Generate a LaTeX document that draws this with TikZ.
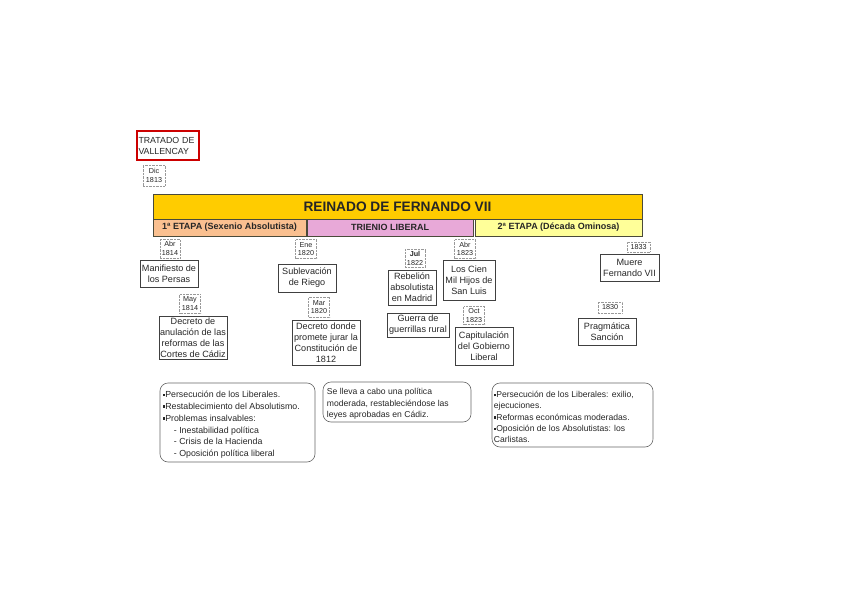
\documentclass[tikz,border=0pt]{standalone}
\usepackage{fontspec}
\setmainfont{Liberation Sans}
\definecolor{bannery}{HTML}{FFCC00}
\definecolor{peach}{HTML}{FAC090}
\definecolor{pinkst}{HTML}{E8A9D8}
\definecolor{lighty}{HTML}{FFFF99}
\definecolor{bord}{HTML}{4A4A3A}
\newcommand\mybul{\rule[0.3ex]{2.4pt}{2.4pt}}
\begin{document}
\begin{tikzpicture}[x=1pt,y=-1pt,
  evt/.style={draw=black!75, line width=0.6pt, inner sep=0.5pt, align=center, text=black!85,
    font=\fontsize{9.1}{11}\selectfont},
  datebox/.style={draw=black!40, densely dotted, inner sep=0.3pt, align=center, text=black!85,
    font=\fontsize{7.2}{8.6}\selectfont},
  stage/.style={draw=bord, line width=0.7pt, minimum height=17pt, inner sep=0pt,
    font=\bfseries\fontsize{9}{9}\selectfont, text=black!85},
  roundbox/.style={draw=black!60, line width=0.6pt, rounded corners=8pt, inner sep=0pt},
  bodytxt/.style={align=left, inner sep=0pt, text=black!85, anchor=north west}
]
\useasboundingbox (0,0) rectangle (848,599);

% treaty
\node[draw=red!80!black, line width=1.1pt, minimum width=62pt, minimum height=29pt,
  inner sep=1pt, align=left, text width=59pt, font=\fontsize{8.8}{11}\selectfont, text=black!85]
  (tratado) at (168,145.5) {TRATADO DE\\VALLENCAY};
\node[datebox, minimum width=22pt, minimum height=21pt] (d1813) at (154,175.5) {Dic\\1813};

% banner
\node[draw=bord, line width=0.7pt, fill=bannery, minimum width=489pt, minimum height=25pt,
  inner sep=0pt, font=\bfseries\fontsize{13.7}{13.7}\selectfont, text=black!85]
  (title) at (397.5,206.5) {REINADO DE FERNANDO VII};
\node[stage, fill=peach, minimum width=153pt] (s1) at (229.5,227.5) {1ª ETAPA (Sexenio Absolutista)};
\node[stage, fill=pinkst, minimum width=166pt] (s2) at (390,227.5) {TRIENIO LIBERAL};
\node[stage, fill=lighty, minimum width=167pt] (s3) at (558.5,227.5) {2ª ETAPA (Década Ominosa)};

% events
\node[datebox, minimum width=20pt, minimum height=19pt] (dabr14) at (170,248.5) {Abr\\1814};
\node[evt, minimum width=58pt, minimum height=27pt] (manif) at (169,273.5) {Manifiesto de\\los Persas};
\node[datebox, minimum width=21pt, minimum height=19pt] (dmay14) at (190,303.5) {May\\1814};
\node[evt, minimum width=68pt, minimum height=43pt] (anul) at (193,337.5) {Decreto de\\anulación de las\\reformas de las\\Cortes de Cádiz};

\node[datebox, minimum width=21pt, minimum height=19pt] (dene20) at (306,249) {Ene\\1820};
\node[evt, minimum width=58pt, minimum height=28pt] (riego) at (307,278) {Sublevación\\de Riego};
\node[datebox, minimum width=21pt, minimum height=20pt] (dmar20) at (319,307) {Mar\\1820};
\node[evt, minimum width=68pt, minimum height=45pt] (jurar) at (326,342.5) {Decreto donde\\promete jurar la\\Constitución de\\1812};

\node[datebox, minimum width=20pt, minimum height=18pt] (djul22) at (415,258.5) {\textbf{Jul}\\1822};
\node[evt, minimum width=48pt, minimum height=35pt] (rebel) at (412,287.5) {Rebelión\\absolutista\\en Madrid};
\node[datebox, minimum width=21pt, minimum height=19pt] (dabr23) at (465,249) {Abr\\1823};
\node[evt, minimum width=52pt, minimum height=40pt] (cien) at (469,280) {Los Cien\\Mil Hijos de\\San Luis};
\node[evt, minimum width=62pt, minimum height=24pt] (guerra) at (418,325) {Guerra de\\guerrillas rural};
\node[datebox, minimum width=21pt, minimum height=18pt] (doct23) at (474,315.5) {Oct\\1823};
\node[evt, minimum width=58pt, minimum height=38pt] (capit) at (484,346) {Capitulación\\del Gobierno\\Liberal};

\node[datebox, minimum width=23pt, minimum height=10pt] (d1833) at (638.5,247) {1833};
\node[evt, minimum width=59pt, minimum height=27pt] (muere) at (629.5,267.5) {Muere\\Fernando VII};
\node[datebox, minimum width=24pt, minimum height=11pt] (d1830) at (610,307.5) {1830};
\node[evt, minimum width=58pt, minimum height=27pt] (pragm) at (607,331.5) {Pragmática\\Sanción};

% bottom boxes
\node[roundbox, minimum width=155pt, minimum height=79pt] (ba) at (237.5,422.5) {};
\node[bodytxt, font=\fontsize{8.8}{11.9}\selectfont] (ta) at ([shift={(3,8)}]ba.north west)
 {\mybul Persecución de los Liberales.\\
  \mybul Restablecimiento del Absolutismo.\\
  \mybul Problemas insalvables:\\
  \hspace*{11pt}- Inestabilidad política\\
  \hspace*{11pt}- Crisis de la Hacienda\\
  \hspace*{11pt}- Oposición política liberal};

\node[roundbox, minimum width=148pt, minimum height=40pt] (bb) at (397,402) {};
\node[bodytxt, font=\fontsize{8.6}{11.4}\selectfont] (tb) at ([shift={(4,6.5)}]bb.north west)
 {Se lleva a cabo una política\\
  moderada, restableciéndose las\\
  leyes aprobadas en Cádiz.};

\node[roundbox, minimum width=161pt, minimum height=64pt] (bc) at (572.5,415) {};
\node[bodytxt, font=\fontsize{8.6}{11.2}\selectfont] (tc) at ([shift={(2,8.5)}]bc.north west)
 {\mybul Persecución de los Liberales: exilio,\\
  ejecuciones.\\
  \mybul Reformas económicas moderadas.\\
  \mybul Oposición de los Absolutistas: los\\
  Carlistas.};
\end{tikzpicture}
\end{document}
